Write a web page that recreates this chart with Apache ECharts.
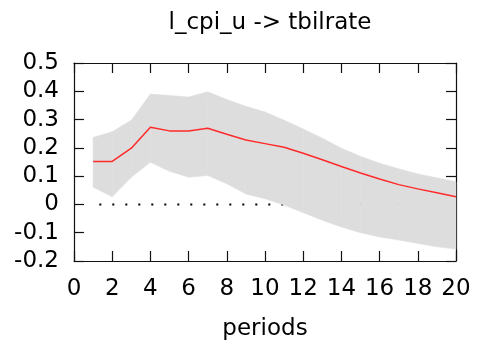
<!DOCTYPE html>
<html><head><meta charset="utf-8">
<script src="https://cdn.jsdelivr.net/npm/echarts@6/dist/echarts.min.js"></script>
<style>html,body{margin:0;padding:0;background:#fff}#c{width:478px;height:341px}</style>
</head><body><div id="c"></div>
<script>
const titleText = 'l_cpi_u -> tbilrate';
const xLabel = 'periods';
const periods = [1,2,3,4,5,6,7,8,9,10,11,12,13,14,15,16,17,18,19,20];
const irf   = [0.152,0.152,0.199,0.273,0.260,0.260,0.269,0.248,0.228,0.215,0.202,0.181,0.158,0.134,0.111,0.090,0.070,0.055,0.041,0.027];
const upper = [0.237,0.257,0.298,0.390,0.385,0.380,0.398,0.371,0.347,0.327,0.298,0.267,0.234,0.199,0.170,0.146,0.126,0.108,0.094,0.080];
const lower = [0.061,0.027,0.096,0.149,0.117,0.096,0.102,0.073,0.037,0.020,-0.002,-0.029,-0.056,-0.080,-0.100,-0.115,-0.126,-0.138,-0.150,-0.158];
const zeroLine = [[1,0],[20,0]];

// band segments built from the arrays (one quad between consecutive periods)
const bandSegments = [];
for (let i = 0; i < periods.length - 1; i++) {
  bandSegments.push([periods[i], lower[i], upper[i], periods[i+1], lower[i+1], upper[i+1]]);
}

const font = 'DejaVu Sans';
const fs = 23;
const chart = echarts.init(document.getElementById('c'));
const axisCommon = {
  axisLine:{show:true,onZero:false,lineStyle:{color:'#111',width:1.2}},
  axisTick:{show:true,inside:true,length:10,lineStyle:{color:'#111',width:1.2}},
  splitLine:{show:false}
};
chart.setOption({
  animation:false,
  title:{text:titleText,left:265,top:7,textAlign:'center',
    textStyle:{fontFamily:font,fontSize:fs,fontWeight:'normal',color:'#000'}},
  grid:{left:74,right:22,top:63,bottom:80,containLabel:false,outerBoundsMode:'none'},
  xAxis:[
    Object.assign({type:'value',min:0,max:20,interval:2,position:'bottom',
      name:xLabel,nameLocation:'middle',nameGap:57,
      nameTextStyle:{fontFamily:font,fontSize:fs,color:'#000'},
      axisLabel:{fontFamily:font,fontSize:fs,color:'#000',margin:17}},axisCommon),
    Object.assign({type:'value',min:0,max:20,interval:2,position:'top',axisLabel:{show:false}},axisCommon)
  ],
  yAxis:[
    Object.assign({type:'value',min:-0.2,max:0.5,interval:0.1,position:'left',
      axisLabel:{fontFamily:font,fontSize:fs,color:'#000',margin:15,
        formatter:v=>{const r=Math.round(v*10)/10;return r===0?'0':String(r);}}},axisCommon),
    Object.assign({type:'value',min:-0.2,max:0.5,interval:0.1,position:'right',axisLabel:{show:false}},axisCommon)
  ],
  series:[
    {type:'line',data:zeroLine,symbol:'none',silent:true,z:1,
      lineStyle:{color:'#000',width:2,type:[2,11],dashOffset:6.8}},
    {type:'custom',data:bandSegments,z:2,silent:true,
      renderItem:(params,api)=>{
        const a=api.coord([api.value(0),api.value(1)]);
        const b=api.coord([api.value(0),api.value(2)]);
        const c=api.coord([api.value(3),api.value(5)]);
        const d=api.coord([api.value(3),api.value(4)]);
        return {type:'polygon',shape:{points:[a,b,c,d]},
          style:{fill:'#dddddd',stroke:'#dddddd',lineWidth:0.5}};
      },
      encode:{x:[0,3],y:[1,2,4,5]}},
    {type:'line',data:periods.map((p,i)=>[p,irf[i]]),symbol:'none',z:3,
      lineStyle:{color:'#ff2a2a',width:1.5}}
  ]
});
</script></body></html>
